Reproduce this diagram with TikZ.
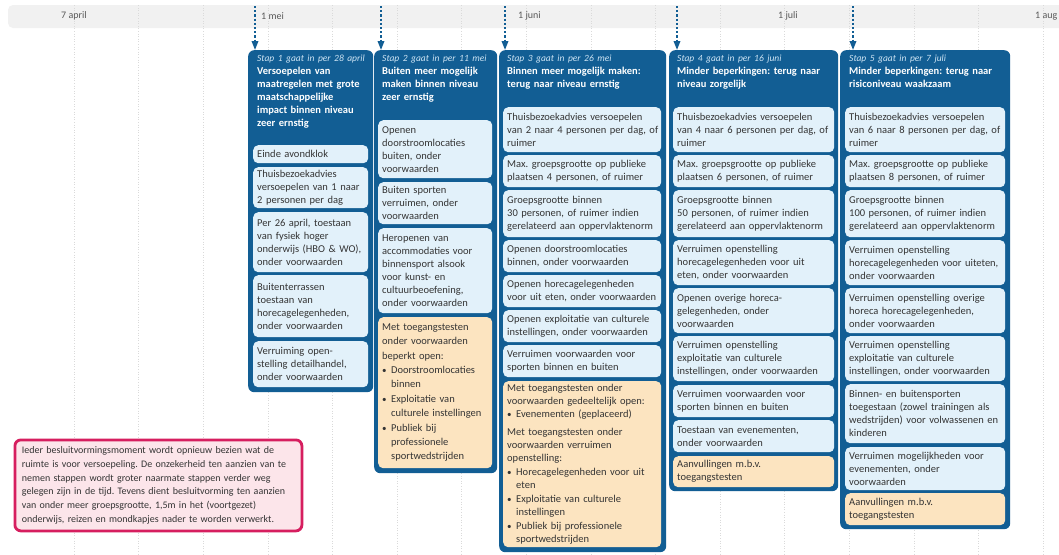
\documentclass[tikz,border=0pt]{standalone}
\usepackage{fontspec}
\setmainfont{Carlito}
\usepackage{tikz}
\usetikzlibrary{arrows.meta,positioning}

\definecolor{stapblauw}{RGB}{18,94,148}
\definecolor{kaartblauw}{RGB}{226,241,250}
\definecolor{oranje}{RGB}{252,228,192}
\definecolor{tekstgrijs}{RGB}{52,52,52}
\definecolor{roze}{RGB}{214,30,95}
\definecolor{rozevul}{RGB}{252,229,234}
\definecolor{bandgrijs}{RGB}{241,241,241}
\definecolor{rastergrijs}{RGB}{218,218,218}
\definecolor{datumwit}{RGB}{205,228,244}

\newcommand{\punt}{\makebox[9pt][l]{\small\textbullet}}
\newcommand{\inspring}{\hspace*{9pt}}
\newcommand{\stapdatum}{\mdseries\itshape\fontsize{9.5}{13}\selectfont\color{datumwit}}
\frenchspacing

\tikzset{
  regels/.style={execute at begin node={\parindent=0pt\rightskip=-40pt plus 1fil\relax}},
  kolom/.style={fill=stapblauw, rounded corners=6pt, anchor=north west, inner sep=0pt},
  kop/.style={regels, anchor=north west, inner sep=0pt, text=white, font=\fontsize{10.5}{13}\selectfont\bfseries},
  kaart/.style={regels, fill=kaartblauw, rounded corners=5pt, anchor=north west, inner xsep=4pt, inner ysep=2pt, text=tekstgrijs, font=\fontsize{10.5}{13}\selectfont},
  test/.style={kaart, fill=oranje},
  kol1/.style={text width=107pt},
  kol2/.style={text width=106pt},
  kol3/.style={text width=150pt},
  kol4/.style={text width=153pt},
  kol5/.style={text width=152pt},
  datum/.style={anchor=west, inner sep=0pt, text=black!65, font=\fontsize{10}{12}\selectfont},
  raster/.style={rastergrijs, dotted, line width=0.6pt},
  pijl/.style={stapblauw, line width=1.8pt, dash pattern=on 2.2pt off 2pt, -{Triangle[length=9pt,width=6.5pt]}},
  opmerking/.style={regels, draw=roze, line width=2.8pt, fill=rozevul, rounded corners=6pt, anchor=north west, inner xsep=7pt, text=tekstgrijs, font=\fontsize{10}{13.8}\selectfont}
}

\begin{document}
\begin{tikzpicture}[x=1pt,y=-1pt]
\useasboundingbox (0,0) rectangle (1059,554);
\fill[white] (0,0) rectangle (1059,554);

% tijdlijn
\fill[bandgrijs, rounded corners=5pt] (8,5) rectangle (1075,28);
\foreach \x in {74,138.6,...,1045} \draw[raster] (\x,5) -- (\x,554);
\node[datum] (apr) at (61,16) {7 april};
\node[datum] (mei) at (261,16) {1 mei};
\node[datum] (jun) at (518,16) {1 juni};
\node[datum] (jul) at (778,16) {1 juli};
\node[datum] (aug) at (1035,16) {1 aug};

% stappen
\node[kolom, minimum width=125pt, minimum height=342pt] (stap1) at (248,50) {};
\node[kolom, minimum width=123pt, minimum height=423pt] (stap2) at (374,50) {};
\node[kolom, minimum width=167pt, minimum height=502pt] (stap3) at (499,50) {};
\node[kolom, minimum width=169pt, minimum height=441pt] (stap4) at (669,50) {};
\node[kolom, minimum width=170pt, minimum height=479pt] (stap5) at (840,50) {};

\coordinate (p1) at (255,6);
\coordinate (p2) at (381,6);
\coordinate (p3) at (505,6);
\coordinate (p4) at (677,6);
\coordinate (p5) at (853,6);
\draw[pijl] (p1) -- (p1 |- stap1.north);
\draw[pijl] (p2) -- (p2 |- stap2.north);
\draw[pijl] (p3) -- (p3 |- stap3.north);
\draw[pijl] (p4) -- (p4 |- stap4.north);
\draw[pijl] (p5) -- (p5 |- stap5.north);

% stap 1
\node[kop, text width=112pt] (kop1) at (257,55) {{\stapdatum Stap 1 gaat in per 28 april}\\Versoepelen van\\maatregelen met grote\\maatschappelijke\\impact binnen niveau\\zeer ernstig};
\node[kaart, kol1, minimum height=18pt] (m1a) at (253,145) {Einde avondklok};
\node[kaart, kol1, minimum height=41pt] (m1b) at (253,167) {Thuisbezoekadvies\\versoepelen van 1 naar\\2 personen per dag};
\node[kaart, kol1, minimum height=60pt] (m1c) at (253,212) {Per 26 april, toestaan\\van fysiek hoger\\onderwijs (HBO \& WO),\\onder voorwaarden};
\node[kaart, kol1, minimum height=62pt] (m1d) at (253,275) {Buitenterrassen\\toestaan van\\horecagelegenheden,\\onder voorwaarden};
\node[kaart, kol1, minimum height=46pt] (m1e) at (253,341) {Verruiming open-\\stelling detailhandel,\\onder voorwaarden};

% stap 2
\node[kop, text width=110pt] (kop2) at (382,55) {{\stapdatum Stap 2 gaat in per 11 mei}\\Buiten meer mogelijk\\maken binnen niveau\\zeer ernstig};
\node[kaart, kol2, minimum height=58pt] (m2a) at (378,120) {Openen\\doorstroomlocaties\\buiten, onder\\voorwaarden};
\node[kaart, kol2, minimum height=42pt] (m2b) at (378,182) {Buiten sporten\\verruimen, onder\\voorwaarden};
\node[kaart, kol2, minimum height=85pt] (m2c) at (378,228) {Heropenen van\\accommodaties voor\\binnensport alsook\\voor kunst- en\\cultuurbeoefening,\\onder voorwaarden};
\node[test, kol2, minimum height=151pt, font=\fontsize{10.5}{14.4}\selectfont] (m2d) at (378,317) {Met toegangstesten\\onder voorwaarden\\beperkt open:\\\punt Doorstroomlocaties\\\inspring binnen\\\punt Exploitatie van\\\inspring culturele instellingen\\\punt Publiek bij\\\inspring professionele\\\inspring sportwedstrijden};

% stap 3
\node[kop, text width=154pt] (kop3) at (507,55) {{\stapdatum Stap 3 gaat in per 26 mei}\\Binnen meer mogelijk maken:\\terug naar niveau ernstig};
\node[kaart, kol3, minimum height=45pt] (m3a) at (503,107) {Thuisbezoekadvies versoepelen\\van 2 naar 4 personen per dag, of\\ruimer};
\node[kaart, kol3, minimum height=32pt] (m3b) at (503,155) {Max. groepsgrootte op publieke\\plaatsen 4 personen, of ruimer};
\node[kaart, kol3, minimum height=47pt] (m3c) at (503,190) {Groepsgrootte binnen\\30 personen, of ruimer indien\\gerelateerd aan oppervlaktenorm};
\node[kaart, kol3, minimum height=32pt] (m3d) at (503,240) {Openen doorstroomlocaties\\binnen, onder voorwaarden};
\node[kaart, kol3, minimum height=32pt] (m3e) at (503,275) {Openen horecagelegenheden\\voor uit eten, onder voorwaarden};
\node[kaart, kol3, minimum height=32pt] (m3f) at (503,310) {Openen exploitatie van culturele\\instellingen, onder voorwaarden};
\node[kaart, kol3, minimum height=32pt] (m3g) at (503,345) {Verruimen voorwaarden voor\\sporten binnen en buiten};
\node[test, kol3, minimum height=166pt, inner ysep=1pt] (m3h) at (503,381) {Met toegangstesten onder\\voorwaarden gedeeltelijk open:\\\punt Evenementen (geplaceerd)\\[5pt]Met toegangstesten onder\\voorwaarden verruimen\\openstelling:\\[1pt]\punt Horecagelegenheden voor uit\\\inspring eten\\[1pt]\punt Exploitatie van culturele\\\inspring instellingen\\[1pt]\punt Publiek bij professionele\\\inspring sportwedstrijden};

% stap 4
\node[kop, text width=156pt] (kop4) at (677,55) {{\stapdatum Stap 4 gaat in per 16 juni}\\Minder beperkingen: terug naar\\niveau zorgelijk};
\node[kaart, kol4, minimum height=45pt] (m4a) at (673,107) {Thuisbezoekadvies versoepelen\\van 4 naar 6 personen per dag, of\\ruimer};
\node[kaart, kol4, minimum height=32pt] (m4b) at (673,155) {Max. groepsgrootte op publieke\\plaatsen 6 personen, of ruimer};
\node[kaart, kol4, minimum height=47pt] (m4c) at (673,190) {Groepsgrootte binnen\\50 personen, of ruimer indien\\gerelateerd aan oppervlaktenorm};
\node[kaart, kol4, minimum height=45pt] (m4d) at (673,240) {Verruimen openstelling\\horecagelegenheden voor uit\\eten, onder voorwaarden};
\node[kaart, kol4, minimum height=45pt] (m4e) at (673,288) {Openen overige horeca-\\gelegenheden, onder\\voorwaarden};
\node[kaart, kol4, minimum height=45pt] (m4f) at (673,336) {Verruimen openstelling\\exploitatie van culturele\\instellingen, onder voorwaarden};
\node[kaart, kol4, minimum height=32pt] (m4g) at (673,385) {Verruimen voorwaarden voor\\sporten binnen en buiten};
\node[kaart, kol4, minimum height=32pt] (m4h) at (673,420) {Toestaan van evenementen,\\onder voorwaarden};
\node[test, kol4, minimum height=31pt] (m4i) at (673,456) {Aanvullingen m.b.v.\\toegangstesten};

% stap 5
\node[kop, text width=155pt] (kop5) at (849,55) {{\stapdatum Stap 5 gaat in per 7 juli}\\Minder beperkingen: terug naar\\risiconiveau waakzaam};
\node[kaart, kol5, minimum height=45pt] (m5a) at (845,107) {Thuisbezoekadvies versoepelen\\van 6 naar 8 personen per dag, of\\ruimer};
\node[kaart, kol5, minimum height=32pt] (m5b) at (845,155) {Max. groepsgrootte op publieke\\plaatsen 8 personen, of ruimer};
\node[kaart, kol5, minimum height=47pt] (m5c) at (845,190) {Groepsgrootte binnen\\100 personen, of ruimer indien\\gerelateerd aan oppervlaktenorm};
\node[kaart, kol5, minimum height=45pt] (m5d) at (845,240) {Verruimen openstelling\\horecagelegenheden voor uiteten,\\onder voorwaarden};
\node[kaart, kol5, minimum height=45pt] (m5e) at (845,288) {Verruimen openstelling overige\\horeca horecagelegenheden,\\onder voorwaarden};
\node[kaart, kol5, minimum height=45pt] (m5f) at (845,336) {Verruimen openstelling\\exploitatie van culturele\\instellingen, onder voorwaarden};
\node[kaart, kol5, minimum height=59pt] (m5g) at (845,384) {Binnen- en buitensporten\\toegestaan (zowel trainingen als\\wedstrijden) voor volwassenen en\\kinderen};
\node[kaart, kol5, minimum height=43pt] (m5h) at (845,447) {Verruimen mogelijkheden voor\\evenementen, onder\\voorwaarden};
\node[test, kol5, minimum height=32pt] (m5i) at (845,493) {Aanvullingen m.b.v.\\toegangstesten};

% opmerking
\node[opmerking, text width=273pt, minimum height=91pt] (noot) at (13.5,438.5) {Ieder besluitvormingsmoment wordt opnieuw bezien wat de\\ruimte is voor versoepeling. De onzekerheid ten aanzien van te\\nemen stappen wordt groter naarmate stappen verder weg\\gelegen zijn in de tijd. Tevens dient besluitvorming ten aanzien\\van onder meer groepsgrootte, 1,5m in het (voortgezet)\\onderwijs, reizen en mondkapjes nader te worden verwerkt.};
\end{tikzpicture}
\end{document}
